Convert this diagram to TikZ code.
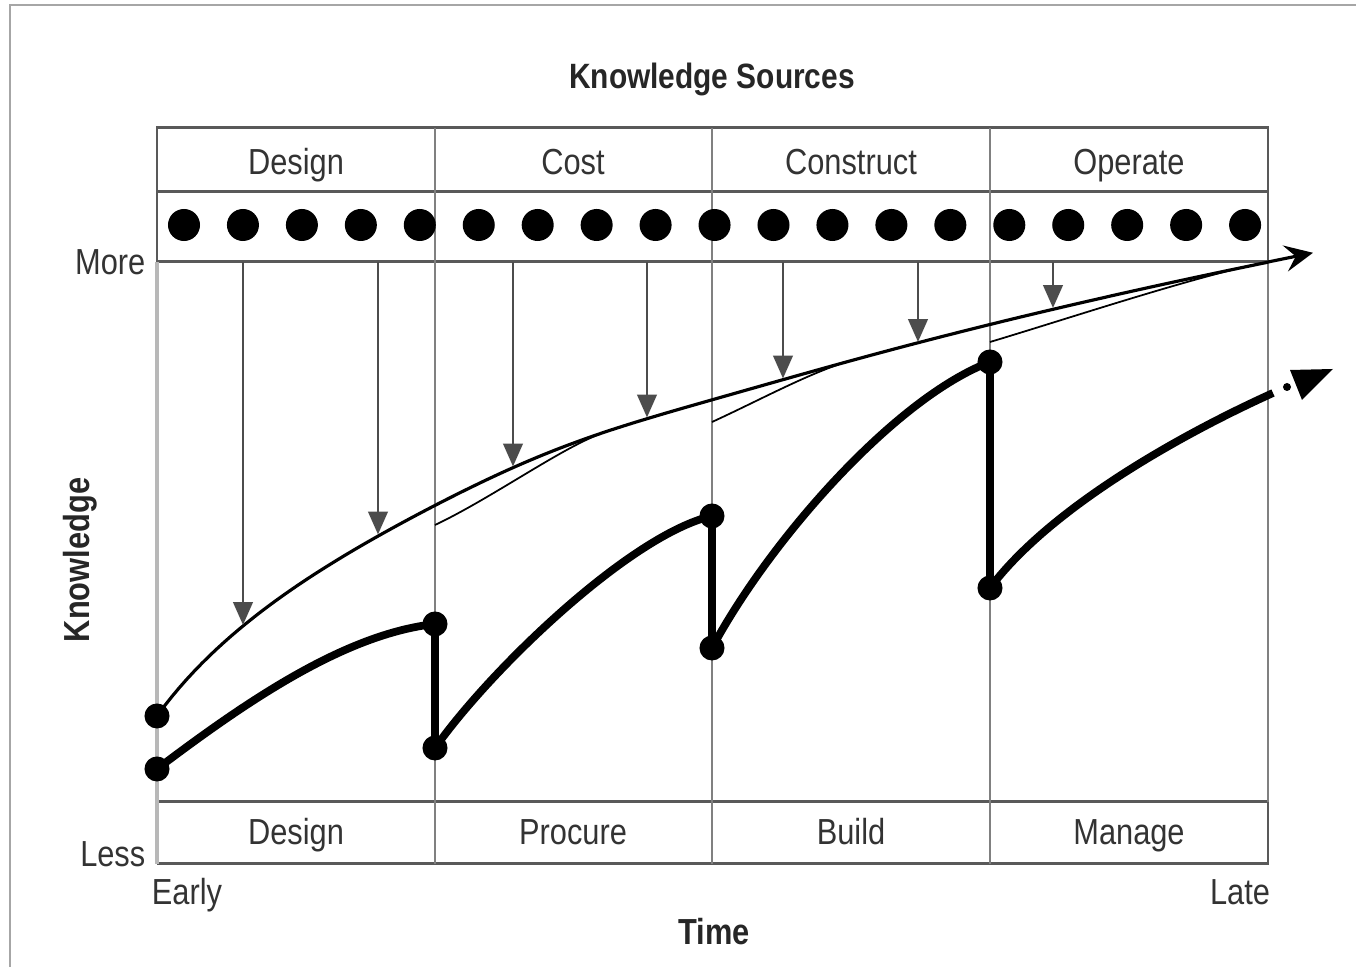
\documentclass[tikz,border=0pt]{standalone}
\usepackage{fontspec}
\setmainfont{Liberation Sans}[FakeStretch=0.85]
\usetikzlibrary{arrows.meta}
\begin{document}
\begin{tikzpicture}[x=0.01cm,y=-0.01cm,
  frameline/.style={draw=black!35, line width=0.6pt},
  boxline/.style={draw=black!65, line width=0.85pt},
  divline/.style={draw=black!50, line width=0.8pt},
  axisline/.style={draw=black!28, line width=0.9pt},
  lbl/.style={text=black!80, font=\fontsize{10.3}{12}\selectfont, inner sep=0pt, anchor=base},
  blbl/.style={text=black!85, font=\fontsize{10}{12}\selectfont\bfseries, inner sep=0pt, anchor=base},
  rowdot/.style={circle, fill=black, inner sep=0pt, minimum size=0.32cm},
  cdot/.style={circle, fill=black, inner sep=0pt, minimum size=0.25cm},
  feed/.style={draw=black!70, line width=0.85pt, -{Triangle[length=6.5pt,width=5.5pt]}},
  upper/.style={draw=black, line width=0.9pt},
  second/.style={draw=black, line width=0.5pt},
  lower/.style={draw=black, line width=2.2pt, line join=round}]
\useasboundingbox (0,0) rectangle (1356,967);
% outer frame
\coordinate (fa) at (1356,5);
\coordinate (fb) at (10,5);
\coordinate (fc) at (10,967);
\draw[frameline] (fa) -- (fb) -- (fc);
% top box
\coordinate (tl) at (157,128);
\coordinate (tm) at (157,192);
\coordinate (tb) at (157,262);
\coordinate (tr) at (1268,128);
\coordinate (trm) at (1268,192);
\coordinate (trb) at (1268,262);
\draw[boxline] (tl) -- (tr) -- (trb) -- (tb) -- cycle;
\draw[boxline] (tm) -- (trm);
% bottom box
\coordinate (bl) at (157,802);
\coordinate (bb) at (157,864);
\coordinate (br) at (1268,802);
\coordinate (bbr) at (1268,864);
\draw[boxline] (bl) -- (br) -- (bbr) -- (bb);
\draw[axisline] (tb) -- (bb);
\draw[divline] (trb) -- (br);
% dividers
\foreach \x/\n in {435/a,712/b,990/c}{
  \coordinate (v\n1) at (\x,128);
  \coordinate (v\n2) at (\x,864);
  \draw[divline] (v\n1) -- (v\n2);
}
% dots row
\foreach \i in {0,...,18}{
  \node[rowdot] (d\i) at ({184+58.95*\i},225) {};
}
% labels
\node[blbl] (title) at (712,89) {Knowledge Sources};
\node[lbl] (h1) at (296,175) {Design};
\node[lbl] (h2) at (573,175) {Cost};
\node[lbl] (h3) at (851,175) {Construct};
\node[lbl] (h4) at (1129,175) {Operate};
\node[lbl] (f1) at (296,845) {Design};
\node[lbl] (f2) at (573,845) {Procure};
\node[lbl] (f3) at (851,845) {Build};
\node[lbl] (f4) at (1129,845) {Manage};
\node[lbl, anchor=base east] (more) at (146,275) {More};
\node[lbl, anchor=base east] (less) at (146,867) {Less};
\node[lbl] (early) at (187,905) {Early};
\node[lbl] (late) at (1240,905) {Late};
\node[blbl, font=\fontsize{10.3}{12}\selectfont\bfseries] (time) at (714,945) {Time};
\node[blbl, font=\fontsize{10.3}{12}\selectfont\bfseries, anchor=center, rotate=90] (know) at (80,560) {Knowledge};
% upper curve
\coordinate (u0) at (157,716);
\coordinate (u4) at (1268,262);
\coordinate (uend) at (1313,252.8);
\draw[upper] plot[domain=157:1268, samples=150] (\x, {716 - 96.9*(pow(\x-80,0.3) - 3.681) - 7*exp(-((\x-560)/140)^2)});
\draw[upper, -{Stealth[length=8pt,width=7.5pt,inset=3pt]}] (u4) -- (uend);
% secondary thin curves
\coordinate (s2a) at (435,525);
\coordinate (s2b) at (600,434);
\coordinate (s3a) at (712,422);
\coordinate (s3b) at (851,360.5);
\coordinate (s4a) at (990,342);
\coordinate (s4b) at (1262,263);
\draw[second] (s2a) .. controls (490,499) and (560,449) .. (s2b);
\draw[second] (s3a) .. controls (760,400) and (811,372) .. (s3b);
\draw[second] (s4a) .. controls (1070,318) and (1190,278) .. (s4b);
% feed arrows
\foreach \i/\x/\y in {1/243/625, 2/378/534.5, 3/513/466.5, 4/647/417.5, 5/783/378.5, 6/918/342, 7/1053/308}{
  \coordinate (fs\i) at (\x,262);
  \coordinate (ft\i) at (\x,\y);
  \draw[feed] (fs\i) -- (ft\i);
}
% lower thick curve
\coordinate (l0) at (157,769);
\coordinate (l1t) at (435,624);
\coordinate (l1b) at (435,748);
\coordinate (l2t) at (712,516);
\coordinate (l2b) at (712,648);
\coordinate (l3t) at (990,362);
\coordinate (l3b) at (990,588);
\coordinate (l4) at (1273,393);
\draw[lower] (l0) .. controls (247,701) and (345,634) .. (l1t) -- (l1b)
  .. controls (490,670) and (630,535) .. (l2t) -- (l2b)
  .. controls (770,540) and (895,398) .. (l3t) -- (l3b)
  .. controls (1050,508) and (1180,435) .. (l4);
\node[circle, fill=black, inner sep=0pt, minimum size=0.08cm] (ldot) at (1287,387) {};
\coordinate (ha) at (1290,370);
\coordinate (hb) at (1333,369);
\coordinate (hc) at (1302,400);
\fill[black] (ha) -- (hb) -- (hc) -- cycle;
% curve dots
\foreach \p in {u0,l0,l1t,l1b,l2t,l2b,l3t,l3b}{
  \node[cdot] (c\p) at (\p) {};
}
\end{tikzpicture}
\end{document}
